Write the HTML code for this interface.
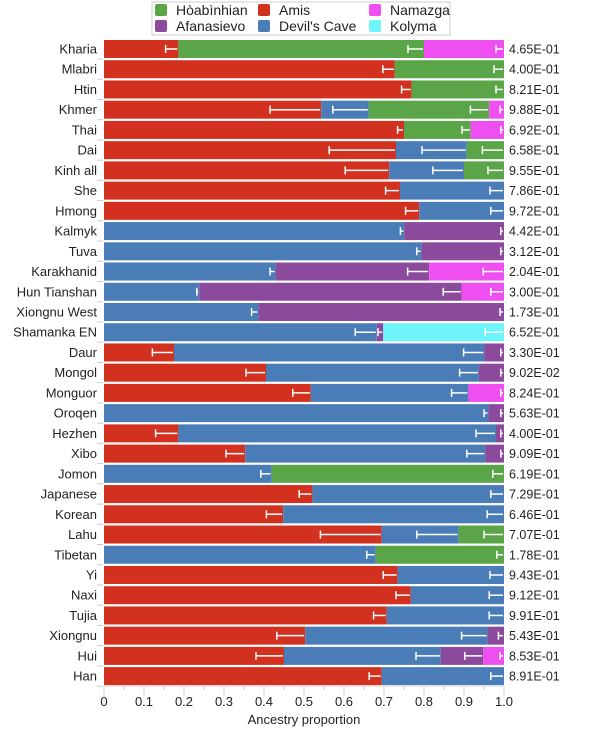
<!DOCTYPE html>
<html><head><meta charset="utf-8"><style>
body{margin:0;background:#fff;width:600px;height:740px;overflow:hidden}
svg text{font-family:"Liberation Sans",sans-serif}
</style></head><body>
<svg id="chart" width="600" height="740" xmlns="http://www.w3.org/2000/svg">
<g id="legend">
<rect x="152" y="2" width="298" height="33" fill="#fff" stroke="#ccc"/>
</g>
<g id="bars"></g><g id="axes"></g>
</svg>
<script>
const categories=["Kharia","Mlabri","Htin","Khmer","Thai","Dai","Kinh all","She","Hmong","Kalmyk","Tuva","Karakhanid","Hun Tianshan","Xiongnu West","Shamanka EN","Daur","Mongol","Monguor","Oroqen","Hezhen","Xibo","Jomon","Japanese","Korean","Lahu","Tibetan","Yi","Naxi","Tujia","Xiongnu","Hui","Han"];
const pvalues=["4.65E-01","4.00E-01","8.21E-01","9.88E-01","6.92E-01","6.58E-01","9.55E-01","7.86E-01","9.72E-01","4.42E-01","3.12E-01","2.04E-01","3.00E-01","1.73E-01","6.52E-01","3.30E-01","9.02E-02","8.24E-01","5.63E-01","4.00E-01","9.09E-01","6.19E-01","7.29E-01","6.46E-01","7.07E-01","1.78E-01","9.43E-01","9.12E-01","9.91E-01","5.43E-01","8.53E-01","8.91E-01"];
const amis=[0.186,0.727,0.769,0.543,0.75,0.73,0.713,0.74,0.788,0,0,0,0,0,0,0.175,0.405,0.517,0,0.186,0.353,0,0.521,0.448,0.694,0,0.734,0.767,0.707,0.503,0.45,0.694];
const devilsCave=[0,0,0,0.119,0,0.177,0.187,0.26,0.212,0.751,0.794,0.429,0.238,0.386,0.682,0.776,0.532,0.394,0.961,0.794,0.6,0.419,0.479,0.552,0.192,0.679,0.266,0.233,0.293,0.456,0.392,0.306];
const afanasievo=[0,0,0,0,0,0,0,0,0,0.249,0.206,0.384,0.656,0.614,0.016,0.049,0.063,0,0.039,0.02,0.047,0,0,0,0,0,0,0,0,0.041,0.106,0];
const hoabinhian=[0.614,0.273,0.231,0.301,0.167,0.093,0.1,0,0,0,0,0,0,0,0,0,0,0,0,0,0,0.581,0,0,0.114,0.321,0,0,0,0,0,0];
const namazga=[0.2,0,0,0.037,0.083,0,0,0,0,0,0,0.187,0.106,0,0,0,0,0.089,0,0,0,0,0,0,0,0,0,0,0,0,0.052,0];
const kolyma=[0,0,0,0,0,0,0,0,0,0,0,0,0,0,0.302,0,0,0,0,0,0,0,0,0,0,0,0,0,0,0,0,0];
const errAmis=[0.032,0.03,0.025,0.128,0.016,0.167,0.11,0.036,0.034,0,0,0,0,0,0,0.054,0.05,0.045,0,0.057,0.048,0,0.033,0.042,0.153,0,0.036,0.037,0.033,0.071,0.07,0.031];
const errDevil=[0,0,0,0.09,0,0.112,0.078,0.035,0.033,0.01,0.012,0.014,0.006,0.017,0.054,0.052,0.048,0.042,0.011,0.05,0.046,0.027,0.033,0.042,0.104,0.022,0.035,0.037,0.037,0.065,0.062,0.033];
const errAfan=[0,0,0,0,0,0,0,0,0,0.008,0.008,0.054,0.046,0.01,0.013,0.008,0.008,0,0.008,0.008,0.008,0,0,0,0,0,0,0,0,0.014,0.046,0];
const errHoab=[0.04,0.025,0.02,0.047,0.022,0.054,0.04,0,0,0,0,0,0,0,0,0,0,0,0,0,0,0.028,0,0,0.05,0.018,0,0,0,0,0,0];
const errNam=[0.02,0,0,0.01,0.008,0,0,0,0,0,0,0.052,0.033,0,0,0,0,0.008,0,0,0,0,0,0,0,0,0,0,0,0,0.01,0];
const errKol=[0,0,0,0,0,0,0,0,0,0,0,0,0,0,0.047,0,0,0,0,0,0,0,0,0,0,0,0,0,0,0,0,0];
const xTicks=[0,0.1,0.2,0.3,0.4,0.5,0.6,0.7,0.8,0.9,1.0];
const xTickLabels=["0","0.1","0.2","0.3","0.4","0.5","0.6","0.7","0.8","0.9","1.0"];

const NS="http://www.w3.org/2000/svg";
const X0=104,XW=400,Y0=40,PITCH=20.23,BH=18;
const xs=v=>X0+v*XW;
const ys=i=>Y0+i*PITCH;
function mk(t,a,p){const e=document.createElementNS(NS,t);for(const k in a)e.setAttribute(k,a[k]);p.appendChild(e);return e;}
const comps=[
 {name:"amis",vals:amis,err:errAmis,col:"#d3311f"},
 {name:"devils-cave",vals:devilsCave,err:errDevil,col:"#4a7db7"},
 {name:"afanasievo",vals:afanasievo,err:errAfan,col:"#8b4a9c"},
 {name:"hoabinhian",vals:hoabinhian,err:errHoab,col:"#5aa548"},
 {name:"namazga",vals:namazga,err:errNam,col:"#ef4ff0"},
 {name:"kolyma",vals:kolyma,err:errKol,col:"#6ef5fb"}];
const bars=document.getElementById('bars'),axes=document.getElementById('axes'),svg=document.getElementById('chart');
categories.forEach((c,i)=>{
 let cum=0;const y=ys(i);
 comps.forEach(cp=>{
  const v=cp.vals[i];if(v<=0)return;
  const r=mk('rect',{x:xs(cum),y:y,width:xs(cum+v)-xs(cum),height:BH,fill:cp.col},bars);
  
  
  cum+=v;
 });
 cum=0;
 comps.forEach(cp=>{
  const v=cp.vals[i];if(v<=0)return;cum+=v;
  const e=cp.err[i];if(e<=0)return;
  const end=xs(Math.min(cum,1))-1,st=xs(cum-e);const cy=y+BH/2;
  const g=mk('g',{stroke:'#fff','stroke-width':1.5},bars);
  
  
  mk('line',{x1:st,x2:end,y1:cy,y2:cy},g);
  mk('line',{x1:st,x2:st,y1:cy-4,y2:cy+4},g);
 });
 const l=mk('text',{x:97,y:y+BH/2+4.5,'text-anchor':'end','font-size':13,fill:'#222'},axes);
 l.textContent=c;
 
 
 const p=mk('text',{x:509,y:y+BH/2+4.5,'font-size':12.5,fill:'#222'},axes);
 p.textContent=pvalues[i];
 
 
 mk('line',{x1:97,x2:103,y1:y+BH+1,y2:y+BH+1,stroke:'#ccc'},axes);
});
const yb=ys(31)+BH+1;
xTicks.forEach((t,k)=>{
 mk('line',{x1:xs(t),x2:xs(t),y1:yb,y2:yb+9,stroke:'#ccc'},axes);
 if(k<xTicks.length-1)mk('line',{x1:xs(t+0.05),x2:xs(t+0.05),y1:yb,y2:yb+4,stroke:'#ccc'},axes);
 const tl=mk('text',{x:xs(t),y:yb+20,'text-anchor':'middle','font-size':13,fill:'#222'},axes);
 tl.textContent=xTickLabels[k];
 
 
});
mk('line',{x1:X0,x2:xs(1),y1:yb,y2:yb,stroke:'#ddd'},axes);
const xt=mk('text',{x:304,y:724,'text-anchor':'middle','font-size':13,fill:'#222'},axes);
xt.textContent='Ancestry proportion';


const leg=document.getElementById('legend');
const items=[["Hòabìnhian","#5aa548",155,4],["Amis","#d3311f",258,4],["Namazga","#ef4ff0",369,4],["Afanasievo","#8b4a9c",155,20],["Devil's Cave","#4a7db7",258,20],["Kolyma","#6ef5fb",369,20]];
items.forEach(it=>{
 const g=mk('g',{},leg);
 
 
 mk('rect',{x:it[2],y:it[3],width:12,height:12,rx:2,fill:it[1]},g);
 const t=mk('text',{x:it[2]+21,y:it[3]+11,'font-size':14,fill:'#222'},g);
 t.textContent=it[0];
});
</script>
</body></html>
